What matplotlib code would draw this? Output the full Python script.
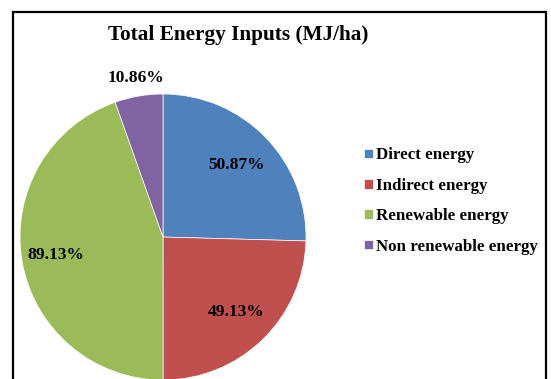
import numpy as np
import matplotlib
matplotlib.use('agg')
import matplotlib.pyplot as plt
from matplotlib.patches import Rectangle

categories = ['Direct energy', 'Indirect energy', 'Renewable energy', 'Non renewable energy']
shares = [50.87, 49.13, 89.13, 10.86]
colours = ['#4F81BD', '#C0504D', '#9BBB59', '#8064A2']
label_dist = [0.72, 0.73, 0.76, 1.13]

plt.rcParams['font.family'] = ['Liberation Serif', 'DejaVu Serif']
plt.rcParams['font.weight'] = 'bold'

fig = plt.figure(figsize=(5.51, 3.79), dpi=100)

# outer chart frame (bottom is cut off in the original)
fig.patches.append(Rectangle((13/551, -0.05), 533/551, 1.05 - 12/379, transform=fig.transFigure,
                             fill=False, edgecolor='black', linewidth=1.6))

ax = fig.add_axes([20/551, -1/379, 286/551, 286/379])
wedges, _ = ax.pie(shares, colors=colours, startangle=90, counterclock=False,
                   radius=1.0, wedgeprops=dict(linewidth=0.5, edgecolor='white'))
ax.set_xlim(-1, 1)
ax.set_ylim(-1, 1)
ax.set_aspect('auto')

for w, val, d in zip(wedges, shares, label_dist):
    ang = np.deg2rad((w.theta1 + w.theta2) / 2)
    ax.text(d*np.cos(ang), d*np.sin(ang), '%.2f%%' % val, ha='center', va='center',
            fontsize=12.5, fontweight='bold', clip_on=False)

fig.text(238/551, 1 - 35/379, 'Total Energy Inputs (MJ/ha)', ha='center', va='center',
         fontsize=15.3, fontweight='bold')

fig.legend(wedges, categories, loc='center left', bbox_to_anchor=(356/551, 1 - 201/379),
           frameon=False, fontsize=12.2, handlelength=0.5, handleheight=0.5,
           handletextpad=0.2, labelspacing=0.85, borderpad=0)

fig.savefig('out.png', dpi=100)
